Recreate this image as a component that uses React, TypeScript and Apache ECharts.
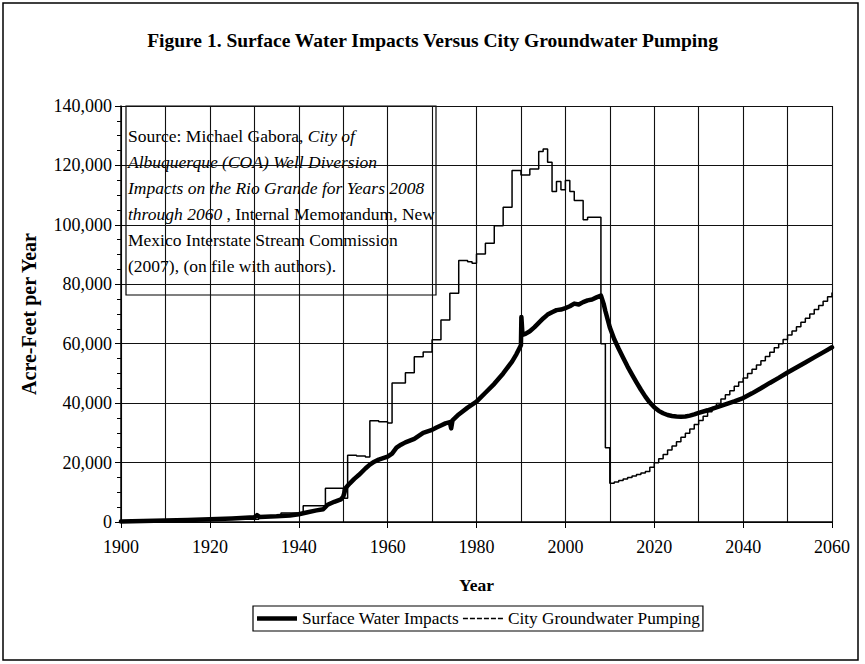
import React, { useEffect, useRef } from 'react';
import * as echarts from 'echarts';

// Surface Water Impacts (acre-feet per year)
const surfYears = [
  1900, 1905, 1910, 1915, 1920, 1925, 1930, 1930.6, 1931.2, 1935, 1938, 1940, 1942, 1944, 1945.5, 1946.5, 1948, 1949.5,
  1950, 1950.6, 1951.5, 1952.5, 1953.5, 1955, 1956, 1957, 1958, 1959, 1960, 1961, 1962, 1963, 1964, 1965, 1966, 1967,
  1968, 1969, 1970, 1971, 1972, 1973, 1974, 1974.3, 1974.6, 1976, 1978, 1980, 1982, 1984, 1986, 1988, 1989, 1990,
  1990.1, 1990.35, 1991, 1992, 1993, 1994, 1995, 1996, 1997, 1998, 1999, 2000, 2001, 2002, 2003, 2004, 2005, 2006,
  2007, 2008, 2008.6, 2009, 2010, 2011, 2012, 2013, 2014, 2015, 2016, 2017, 2018, 2019, 2020, 2021, 2022, 2023, 2024,
  2025, 2026, 2027, 2028, 2029, 2030, 2032, 2034, 2036, 2038, 2040, 2042, 2044, 2046, 2048, 2050, 2052, 2054, 2056,
  2058, 2060,
];
const surfValues = [
  200, 350, 500, 700, 900, 1200, 1600, 2300, 1700, 1900, 2200, 2600, 3300, 3900, 4300, 5800, 6800, 7600,
  8500, 11500, 13000, 14500, 15800, 18000, 19300, 20300, 21000, 21500, 22000, 23000, 25000, 26000, 26800, 27400, 28000, 29000,
  30000, 30500, 31000, 31800, 32500, 33200, 33600, 31500, 34200, 36200, 38500, 40500, 43500, 46500, 50000, 54000, 56500, 59500,
  69000, 63000, 63300, 64200, 65500, 67000, 68500, 69800, 70600, 71300, 71500, 72000, 72600, 73500, 73200, 74000, 74600, 74900,
  75600, 76200, 73500, 71000, 65500, 61500, 58300, 55300, 52300, 49600, 47000, 44500, 42200, 40200, 38600, 37400, 36600, 36000, 35700,
  35500, 35400, 35500, 35800, 36200, 36700, 37600, 38600, 39600, 40600, 41700, 43300, 45000, 46800, 48500, 50300, 52000, 53700, 55400,
  57100, 58800,
];

// City Groundwater Pumping (step values, held until the next year listed)
const pumpYears = [
  1900, 1910, 1920, 1931, 1936, 1941, 1946, 1950, 1951, 1953, 1955, 1956, 1958, 1960, 1961, 1964, 1966, 1968, 1970,
  1972, 1974, 1976, 1978, 1979, 1980, 1982, 1984, 1986, 1988, 1990, 1992, 1994, 1995, 1996, 1997, 1998, 1999, 2000,
  2001, 2002, 2004, 2005, 2008, 2009, 2010, 2011, 2012, 2013, 2014, 2015, 2016, 2017, 2018, 2019, 2020, 2021, 2022,
  2023, 2024, 2025, 2026, 2027, 2028, 2029, 2030, 2031, 2032, 2033, 2034, 2035, 2036, 2037, 2038, 2039, 2040, 2041,
  2042, 2043, 2044, 2045, 2046, 2047, 2048, 2049, 2050, 2051, 2052, 2053, 2054, 2055, 2056, 2057, 2058, 2059, 2060,
];
const pumpValues = [
  300, 600, 900, 1800, 3000, 5500, 11400, 8000, 22500, 22200, 21900, 34100, 33700, 33300, 46800, 50200, 55600, 57200, 61300,
  68000, 77000, 88000, 87600, 87100, 90200, 93800, 99700, 105900, 118300, 116800, 118800, 124700, 125500, 121100, 111200, 114600, 111800, 114900,
  111200, 108200, 101700, 102600, 60000, 25000, 13000, 13500, 14000, 14500, 15000, 15500, 16000, 16500, 17000, 18400, 19900, 21300, 22700,
  24200, 25600, 27000, 28500, 29900, 31300, 32800, 34200, 35600, 37100, 38500, 39900, 41400, 42800, 44200, 45700, 47100, 48500, 50000,
  51400, 52800, 54300, 55700, 57100, 58600, 60000, 61400, 62900, 64300, 65700, 67200, 68600, 70000, 71500, 72900, 74300, 75800, 77200,
];

const seriesNames = ['Surface Water Impacts', 'City Groundwater Pumping'];
const titleText = 'Figure 1. Surface Water Impacts Versus City Groundwater Pumping';
const sourceLines = [
  '{n|Source: Michael Gabora, }{i|City of}',
  '{i|Albuquerque (COA) Well Diversion}',
  '{i|Impacts on the Rio Grande for Years 2008}',
  '{i|through 2060}{n| , Internal Memorandum, New}',
  '{n|Mexico Interstate Stream Commission}',
  '{n|(2007), (on file with authors).}',
];

const FONT = "'Liberation Serif', 'Times New Roman', Times, serif";

export default function App() {
  const ref = useRef<HTMLDivElement>(null);
  useEffect(() => {
    if (!ref.current) return;
    const chart = echarts.init(ref.current, undefined, { renderer: 'svg' });
    const surfData = surfYears.map((y, i) => [y, surfValues[i]]);
    const pumpData = pumpYears.map((y, i) => [y, pumpValues[i]]);
    const gridLine = { show: true, lineStyle: { color: '#111', width: 1.1 } };
    chart.setOption({
      animation: false,
      backgroundColor: '#fff',
      textStyle: { fontFamily: FONT, color: '#000' },
      title: {
        text: titleText,
        left: 'center',
        top: 25,
        textStyle: { fontFamily: FONT, fontSize: 19.5, fontWeight: 'bold', color: '#000' },
      },
      grid: { left: 121, right: 33, top: 106, bottom: 142, containLabel: false },
      xAxis: {
        type: 'value',
        min: 1900,
        max: 2060,
        interval: 20,
        name: 'Year',
        nameLocation: 'middle',
        nameGap: 54,
        nameTextStyle: { fontFamily: FONT, fontSize: 17.5, fontWeight: 'bold', color: '#000' },
        axisLine: { show: true, lineStyle: { color: '#000', width: 1.5 } },
        axisTick: { show: true, length: 6, lineStyle: { color: '#000', width: 1 } },
        minorTick: { show: true, splitNumber: 2, length: 0 },
        axisLabel: {
          fontFamily: FONT,
          fontSize: 18,
          color: '#000',
          margin: 16,
          formatter: (v: number) => String(v),
        },
        splitLine: gridLine,
        minorSplitLine: gridLine,
      },
      yAxis: {
        type: 'value',
        min: 0,
        max: 140000,
        interval: 20000,
        name: 'Acre-Feet per Year',
        nameLocation: 'middle',
        nameRotate: 90,
        nameGap: 82,
        nameTextStyle: { fontFamily: FONT, fontSize: 20, fontWeight: 'bold', color: '#000' },
        axisLine: { show: true, lineStyle: { color: '#000', width: 1.5 } },
        axisTick: { show: true, length: 6, lineStyle: { color: '#000', width: 1 } },
        minorTick: { show: true, splitNumber: 4, length: 4, lineStyle: { color: '#000', width: 1 } },
        axisLabel: {
          fontFamily: FONT,
          fontSize: 18,
          color: '#000',
          margin: 9,
          formatter: (v: number) => v.toLocaleString('en-US'),
        },
        splitLine: gridLine,
      },
      legend: {
        left: 253,
        top: 606,
        orient: 'horizontal',
        padding: [4, 3, 4, 4],
        itemGap: 4,
        itemWidth: 40,
        itemHeight: 12,
        borderColor: '#000',
        borderWidth: 1.2,
        backgroundColor: '#fff',
        textStyle: { fontFamily: FONT, fontSize: 17.3, color: '#000' },
        data: [
          { name: seriesNames[0], icon: 'path://M0 0H40V4.5H0Z' },
          {
            name: seriesNames[1],
            icon: 'path://M0 0H5V1.4H0ZM7 0H12V1.4H7ZM14 0H19V1.4H14ZM21 0H26V1.4H21ZM28 0H33V1.4H28ZM35 0H40V1.4H35Z',
          },
        ],
      },
      series: [
        {
          name: seriesNames[0],
          type: 'line',
          data: surfData,
          showSymbol: false,
          symbol: 'none',
          smooth: false,
          itemStyle: { color: '#000' },
          lineStyle: { color: '#000', width: 4.5, join: 'round', cap: 'round' },
          z: 3,
        },
        {
          name: seriesNames[1],
          type: 'line',
          data: pumpData,
          step: 'end',
          showSymbol: false,
          symbol: 'none',
          itemStyle: { color: '#000' },
          lineStyle: { color: '#000', width: 1.5 },
          z: 4,
        },
      ],
      graphic: [
        {
          type: 'rect',
          shape: { x: 3, y: 3, width: 855, height: 657 },
          style: { fill: 'none', stroke: '#000', lineWidth: 1.5 },
          z: 10,
          silent: true,
        },
        {
          type: 'group',
          z: 20,
          children: [
            {
              type: 'rect',
              shape: { x: 126, y: 106, width: 310, height: 189 },
              style: { fill: '#fff', stroke: '#000', lineWidth: 1.2 },
            },
            {
              type: 'text',
              x: 128,
              y: 123,
              style: {
                text: sourceLines.join('\n'),
                fill: '#000',
                fontFamily: FONT,
                fontSize: 17.5,
                lineHeight: 26,
                verticalAlign: 'top',
                align: 'left',
                rich: {
                  n: { fontFamily: FONT, fontSize: 17.5, fontStyle: 'normal', lineHeight: 26, fill: '#000' },
                  i: { fontFamily: FONT, fontSize: 17.5, fontStyle: 'italic', lineHeight: 26, fill: '#000' },
                },
              },
            },
          ],
        },
      ],
    });
    return () => chart.dispose();
  }, []);
  return <div ref={ref} style={{ position: 'absolute', left: 0, top: 0, width: 865, height: 664 }} />;
}
